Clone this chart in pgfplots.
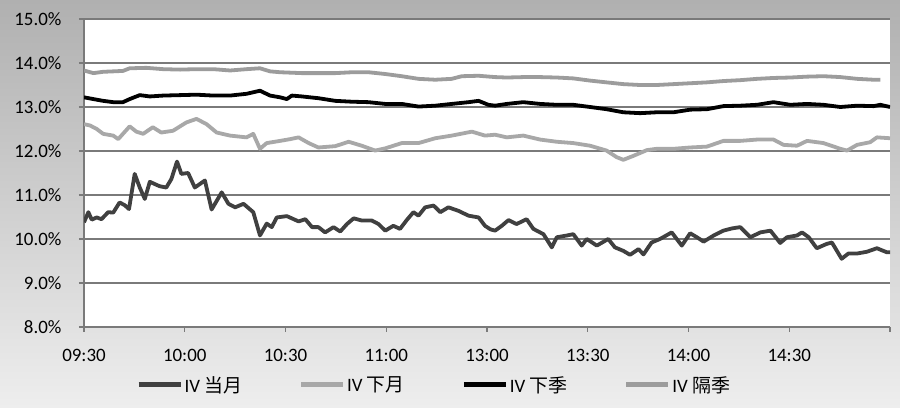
\documentclass[border=0pt]{standalone}
\usepackage{fontspec}
\setmainfont{Carlito}
\newfontfamily\cjk{Noto Sans CJK SC}
\usepackage{pgfplots}
\usepackage{pgfplotstable}
\pgfplotsset{compat=1.18}

\definecolor{cdang}{HTML}{404040}
\definecolor{cxiayue}{HTML}{A8A8A8}
\definecolor{cxiaji}{HTML}{000000}
\definecolor{cgeji}{HTML}{9C9C9C}
\definecolor{gridc}{HTML}{7A7A7A}
\definecolor{bgtop}{HTML}{B0B0B0}
\definecolor{bgbot}{HTML}{EEEEEE}

% x = minutes of trading time since 09:30 (lunch break removed)
\pgfplotstableread{
t v
0 10.38
1.3 10.61
2.3 10.44
3.8 10.49
5.2 10.45
7.2 10.61
8.7 10.60
10.6 10.83
12.1 10.77
13.4 10.68
15.1 11.48
16.6 11.17
18.1 10.91
19.6 11.30
22.5 11.20
24.5 11.17
26 11.36
27.7 11.76
29 11.48
31 11.50
33 11.17
36 11.33
38 10.67
41 11.06
43 10.80
45 10.72
47.5 10.80
50.4 10.61
52.4 10.08
54.4 10.35
55.9 10.27
57.4 10.49
60.4 10.52
63.9 10.40
65.9 10.45
67.9 10.27
69.8 10.27
71.8 10.15
74.3 10.27
76.3 10.17
78.3 10.34
80.3 10.47
82.7 10.42
85.7 10.42
87.7 10.34
89.7 10.19
92.1 10.30
94.1 10.23
96.1 10.43
98.1 10.61
99.6 10.53
101.6 10.72
104.1 10.76
106.1 10.61
108.5 10.72
111.5 10.64
114.5 10.53
117.5 10.49
119.4 10.30
121 10.22
122.4 10.19
124.4 10.30
126.4 10.43
128.8 10.34
131.8 10.45
133.8 10.23
136.8 10.11
139.3 9.81
140.8 10.04
143.8 10.08
145.7 10.11
148.2 9.85
149.7 10.00
152.7 9.85
156.1 10.00
158.1 9.81
160.6 9.73
162.6 9.64
165.1 9.77
166.6 9.65
169 9.92
171.5 10.00
175 10.15
178 9.85
180.5 10.13
182.5 10.04
184.5 9.94
187.5 10.08
190.4 10.19
192.9 10.24
195.4 10.27
198.4 10.04
201.4 10.15
204.4 10.19
207.3 9.91
209.3 10.04
212.3 10.08
213.8 10.15
215.8 10.04
218.2 9.79
221.2 9.89
222.7 9.92
225.6 9.55
227.6 9.67
230.2 9.67
233.1 9.71
236.1 9.79
239 9.70
240 9.70
}\dangyue

\pgfplotstableread{
t v
0 12.61
1.8 12.58
3.8 12.50
5.7 12.39
8.7 12.35
10.2 12.27
11.6 12.39
13.6 12.56
15.6 12.44
17.6 12.39
20.5 12.54
23 12.42
26.5 12.46
30.5 12.65
33.5 12.73
36.5 12.61
39.5 12.42
43.5 12.35
48.4 12.31
50.4 12.39
52.4 12.05
54.4 12.18
58.4 12.23
61.4 12.27
63.9 12.31
66.9 12.18
69.8 12.08
74.8 12.11
78.8 12.21
82.7 12.12
86.7 12.01
89.7 12.06
94.6 12.18
99.6 12.18
104.6 12.29
109.5 12.35
115.5 12.44
119.4 12.35
122.4 12.37
125.9 12.31
130.8 12.35
135.8 12.26
140.8 12.21
145.7 12.18
150.7 12.12
155.6 12.01
158.6 11.86
160.6 11.80
163.6 11.89
167.6 12.02
170.5 12.05
175.5 12.05
180.5 12.08
185.5 12.10
190.4 12.23
195.4 12.23
200.4 12.26
205.3 12.26
208.3 12.14
212.3 12.12
215.3 12.23
220.2 12.18
225.2 12.05
227.2 12.01
230.2 12.14
234.1 12.20
236.1 12.31
240 12.29
}\xiayue

\pgfplotstableread{
t v
0 13.22
2.8 13.18
5.7 13.14
8.7 13.11
11.6 13.11
13.6 13.18
16.6 13.27
19.6 13.24
23.6 13.26
28.6 13.27
33.5 13.28
38.5 13.26
43.5 13.26
48.4 13.30
52.4 13.37
55.4 13.26
58.4 13.22
60.4 13.18
61.9 13.26
64.9 13.24
69.8 13.20
74.8 13.14
79.8 13.12
84.7 13.11
89.7 13.07
94.6 13.07
99.6 13.01
104.6 13.03
109.5 13.07
114.5 13.11
117.5 13.14
120.4 13.05
122.4 13.03
125.9 13.07
130.8 13.11
135.8 13.07
140.8 13.05
145.7 13.05
150.7 13.00
155.6 12.95
160.6 12.88
165.6 12.86
170.5 12.88
175.5 12.88
180.5 12.94
185.5 12.95
190.4 13.02
195.4 13.03
200.4 13.05
205.3 13.11
210.3 13.05
215.3 13.07
220.2 13.05
225.2 13.00
230.2 13.03
235.1 13.02
237.1 13.05
240 13.00
}\xiaji

\pgfplotstableread{
t v
0 13.83
2.8 13.77
5.7 13.80
8.7 13.81
11.6 13.82
13.6 13.88
18.6 13.89
23.6 13.86
28.6 13.85
33.5 13.86
38.5 13.86
43.5 13.83
48.4 13.86
52.4 13.88
55.4 13.81
58.4 13.79
64.9 13.77
69.8 13.77
74.8 13.77
79.8 13.79
84.7 13.79
89.7 13.75
94.6 13.70
99.6 13.64
104.6 13.62
109.5 13.64
112.5 13.70
117.5 13.71
122.4 13.68
125.9 13.67
130.8 13.68
135.8 13.68
140.8 13.67
145.7 13.65
150.7 13.60
155.6 13.56
160.6 13.52
165.6 13.50
170.5 13.50
175.5 13.52
180.5 13.54
185.5 13.56
190.4 13.59
195.4 13.61
200.4 13.64
205.3 13.66
210.3 13.67
215.3 13.69
220.2 13.70
225.2 13.68
230.2 13.64
235.1 13.62
237.1 13.62
}\geji

\begin{document}
\begin{tikzpicture}
\shade[top color=bgtop, bottom color=bgbot] (0,0) rectangle (900bp,408bp);
\begin{axis}[
    scale only axis,
    width=806bp, height=308bp,
    at={(84bp,81bp)}, anchor=south west,
    xmin=0, xmax=240, ymin=8, ymax=15,
    axis background/.style={fill=white},
    axis x line*=bottom, axis y line*=left,
    axis line style={gridc, line width=1.3bp},
    ymajorgrids, grid style={gridc, line width=1.3bp},
    xtick={0,30,...,240},
    xticklabels={09:30,10:00,10:30,11:00,13:00,13:30,14:00,14:30,{}},
    ytick={8,...,15},
    yticklabel={\pgfmathprintnumber[fixed,fixed zerofill,precision=1]{\tick}\%},
    /pgf/number format/assume math mode=true,
    tick align=outside, major tick length=5bp,
    tick style={gridc, line width=1.3bp},
    tick label style={font=\fontsize{19}{22}\selectfont, text=black},
    xticklabel style={yshift=-14bp},
    yticklabel style={xshift=-14bp},
    legend columns=4,
    legend style={at={(axis description cs:0.434,-0.188)}, anchor=center,
        draw=none, fill=none, font=\fontsize{19}{22}\selectfont,
        /tikz/every even column/.append style={column sep=55bp},
        nodes={inner sep=1.5bp}},
    legend image code/.code={\draw[#1, line width=5bp] (0bp,0bp) -- (42bp,0bp);},
    every axis plot/.append style={line width=3.8bp, line join=round},
]
\addplot[cdang] table[x=t, y=v] {\dangyue};
\addlegendentry{IV {\cjk 当月}}
\addplot[cxiayue] table[x=t, y=v] {\xiayue};
\addlegendentry{IV {\cjk 下月}}
\addplot[cxiaji] table[x=t, y=v] {\xiaji};
\addlegendentry{IV {\cjk 下季}}
\addplot[cgeji] table[x=t, y=v] {\geji};
\addlegendentry{IV {\cjk 隔季}}
\end{axis}
\pgfresetboundingbox
\useasboundingbox (0,0) rectangle (900bp,408bp);
\end{tikzpicture}
\end{document}
